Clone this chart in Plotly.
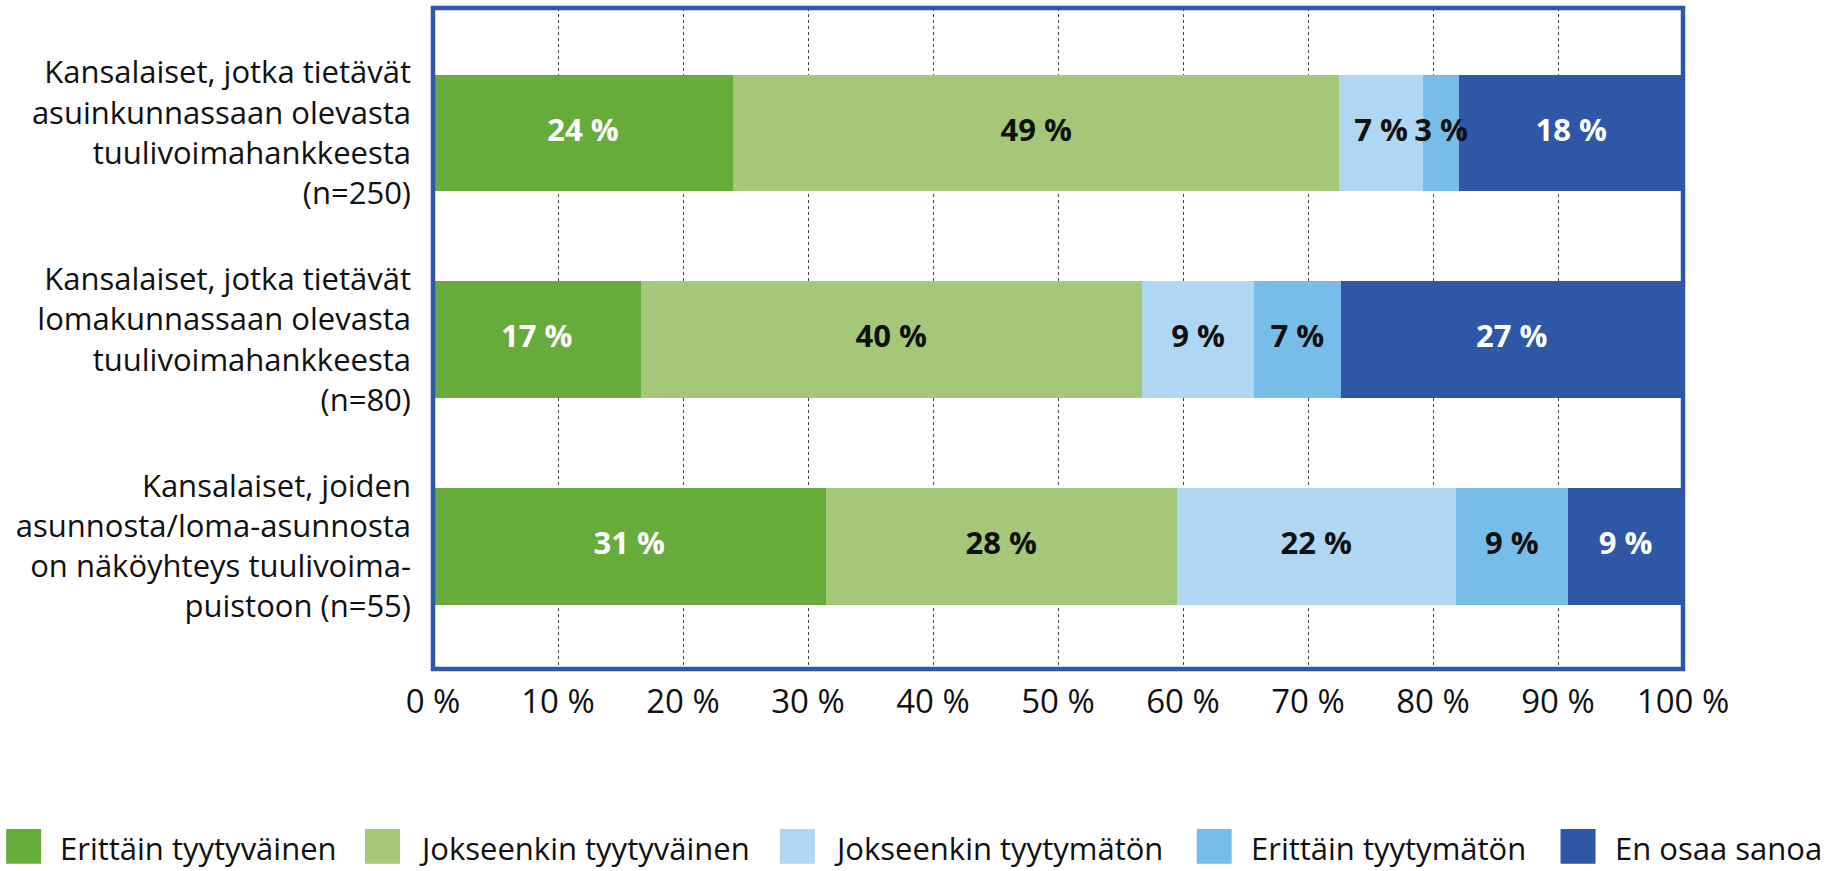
import numpy as np
import plotly.graph_objects as go

# ---------------- data ----------------
categories = [
    "Kansalaiset, jotka tietävät<br>asuinkunnassaan olevasta<br>tuulivoimahankkeesta<br>(n=250)",
    "Kansalaiset, jotka tietävät<br>lomakunnassaan olevasta<br>tuulivoimahankkeesta<br>(n=80)",
    "Kansalaiset, joiden<br>asunnosta/loma-asunnosta<br>on näköyhteys tuulivoima-<br>puistoon (n=55)",
]

series_names = [
    "Erittäin tyytyväinen",
    "Jokseenkin tyytyväinen",
    "Jokseenkin tyytymätön",
    "Erittäin tyytymätön",
    "En osaa sanoa",
]

erittain_tyytyvainen = [24.0, 16.6, 31.4]
jokseenkin_tyytyvainen = [48.5, 40.1, 28.1]
jokseenkin_tyytymaton = [6.7, 9.0, 22.3]
erittain_tyytymaton = [2.9, 6.9, 9.0]
en_osaa_sanoa = [17.9, 27.4, 9.2]

label_erittain_tyytyvainen = ["24 %", "17 %", "31 %"]
label_jokseenkin_tyytyvainen = ["49 %", "40 %", "28 %"]
label_jokseenkin_tyytymaton = ["7 %", "9 %", "22 %"]
label_erittain_tyytymaton = ["3 %", "7 %", "9 %"]
label_en_osaa_sanoa = ["18 %", "27 %", "9 %"]

tick_values = [0, 10, 20, 30, 40, 50, 60, 70, 80, 90, 100]
tick_labels = ["0 %", "10 %", "20 %", "30 %", "40 %", "50 %",
               "60 %", "70 %", "80 %", "90 %", "100 %"]

# ---------------- styles ----------------
series_values = [erittain_tyytyvainen, jokseenkin_tyytyvainen,
                 jokseenkin_tyytymaton, erittain_tyytymaton, en_osaa_sanoa]
series_labels = [label_erittain_tyytyvainen, label_jokseenkin_tyytyvainen,
                 label_jokseenkin_tyytymaton, label_erittain_tyytymaton,
                 label_en_osaa_sanoa]
colors = ["#67AC3A", "#A4C878", "#AFD6F2", "#77BDEA", "#2E57A6"]
text_colors = ["#FFFFFF", "#111111", "#111111", "#111111", "#FFFFFF"]
border_color = "#2E57A6"
FONT = "Open Sans"

W, H = 1831, 871
ML, MR, MT, MB = 433, 147.5, 7.5, 202
plot_w = W - ML - MR
plot_h = H - MT - MB

fig = go.Figure()

vals = np.array(series_values, dtype=float)
starts = np.vstack([np.zeros(vals.shape[1]), np.cumsum(vals, axis=0)[:-1]])

for i, name in enumerate(series_names):
    fig.add_trace(go.Bar(
        name=name,
        y=categories,
        x=series_values[i],
        orientation="h",
        marker=dict(color=colors[i], line=dict(width=0)),
        width=0.566,
        hoverinfo="x+name",
    ))

for i, name in enumerate(series_names):
    mids = starts[i] + vals[i] / 2.0
    fig.add_trace(go.Scatter(
        x=mids,
        y=categories,
        mode="text",
        text=series_labels[i],
        textposition="middle center",
        textfont=dict(family=FONT, size=31, color=text_colors[i], weight="bold"),
        hoverinfo="skip",
        showlegend=False,
    ))

# frame around plot area
fig.add_shape(type="rect", xref="x domain", yref="y domain",
              x0=0, x1=1, y0=0, y1=1,
              line=dict(color=border_color, width=4.5),
              fillcolor="rgba(0,0,0,0)", layer="above")

# custom legend with large square swatches
def px_to_paper_x(px):
    return (px - ML) / plot_w

def px_to_paper_y(py):
    return (H - MB - py) / plot_h

legend_left_px = [6, 365, 780, 1197, 1561]
sw = 35
sw_top, sw_bottom = 829, 864
for i, name in enumerate(series_names):
    x0 = legend_left_px[i]
    fig.add_shape(type="rect", xref="paper", yref="paper",
                  x0=px_to_paper_x(x0), x1=px_to_paper_x(x0 + sw),
                  y0=px_to_paper_y(sw_bottom), y1=px_to_paper_y(sw_top),
                  line=dict(width=0), fillcolor=colors[i])
    fig.add_annotation(xref="paper", yref="paper",
                       x=px_to_paper_x(x0 + 52), y=px_to_paper_y(848),
                       xanchor="left", yanchor="middle", showarrow=False,
                       text=name,
                       font=dict(family=FONT, size=31, color="#111111"))

fig.update_layout(
    width=W, height=H,
    margin=dict(l=ML, r=MR, t=MT, b=MB, pad=0, autoexpand=False),
    barmode="stack",
    showlegend=False,
    plot_bgcolor="white",
    paper_bgcolor="white",
    font=dict(family=FONT, color="#111111"),
)

fig.update_xaxes(
    range=[0, 100],
    tickvals=tick_values,
    ticktext=tick_labels,
    tickfont=dict(family=FONT, size=33, color="#111111"),
    showgrid=True,
    gridcolor="#444444",
    gridwidth=1,
    griddash="3px,3px",
    zeroline=False,
    showline=False,
    ticks="",
    ticklabelstandoff=10,
    automargin=False,
    fixedrange=True,
)

fig.update_yaxes(
    type="category",
    categoryorder="array",
    categoryarray=categories,
    range=[2.595, -0.605],
    tickfont=dict(family=FONT, size=31, color="#111111"),
    showgrid=False,
    zeroline=False,
    showline=False,
    ticks="",
    ticklabelstandoff=21,
    automargin=False,
    fixedrange=True,
)

fig.write_html(
    "out.html",
    config={"displayModeBar": False},
    post_script="document.body.style.margin='0';document.body.style.overflow='hidden';",
)
